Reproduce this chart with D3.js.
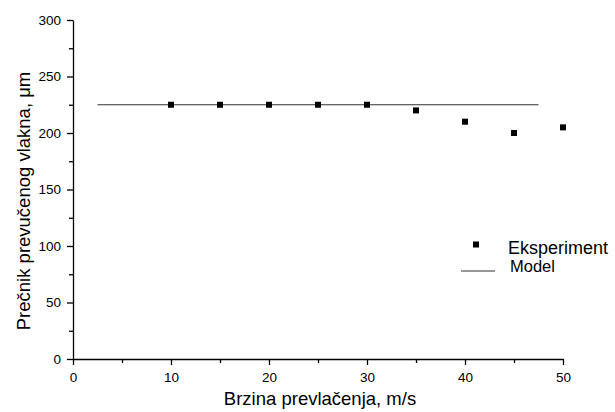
<!DOCTYPE html>
<html>
<head>
<meta charset="utf-8">
<script src="https://cdn.jsdelivr.net/npm/d3@7"></script>
<style>
  body { margin: 0; background: #fff; }
  text { font-family: "Liberation Sans", Arial, sans-serif; fill: #000; }
</style>
</head>
<body>
<div id="chart"></div>
<script>
// measured data
var speed = [10, 15, 20, 25, 30, 35, 40, 45, 50];
var diameter = [225, 225, 225, 225, 225, 220, 210, 200, 205];
var modelX = [2.5, 47.5];
var modelY = [225, 225];
var xTicks = [0, 10, 20, 30, 40, 50];
var yTicks = [0, 50, 100, 150, 200, 250, 300];

var width = 615, height = 412;
var margin = {top: 20, right: 52, bottom: 53, left: 73};

var svg = d3.select("#chart").append("svg")
    .attr("width", width)
    .attr("height", height);

var x = d3.scaleLinear().domain([0, 50]).range([margin.left, width - margin.right]);
var y = d3.scaleLinear().domain([0, 300]).range([height - margin.bottom, margin.top]);

// minor ticks first
svg.append("g")
    .attr("transform", "translate(0," + y(0) + ")")
    .call(d3.axisBottom(x).tickValues(d3.range(5, 50, 10)).tickSize(4).tickFormat(""))
    .call(function(g){ g.select(".domain").remove(); });
svg.append("g")
    .attr("transform", "translate(" + x(0) + ",0)")
    .call(d3.axisLeft(y).tickValues(d3.range(25, 300, 50)).tickSize(4).tickFormat(""))
    .call(function(g){ g.select(".domain").remove(); });

var xAxis = svg.append("g")
    .attr("transform", "translate(0," + y(0) + ")")
    .call(d3.axisBottom(x).tickValues(xTicks).tickSize(6).tickSizeOuter(0).tickPadding(7));
var yAxis = svg.append("g")
    .attr("transform", "translate(" + x(0) + ",0)")
    .call(d3.axisLeft(y).tickValues(yTicks).tickSize(6).tickSizeOuter(0).tickPadding(6));

svg.selectAll(".tick text").style("font-size", "13.5px").style("font-family", "Liberation Sans, Arial, sans-serif");
svg.selectAll(".domain, .tick line").attr("stroke", "#000").attr("stroke-width", 1.3);

// model line
var line = d3.line()
    .x(function(d, i){ return x(modelX[i]); })
    .y(function(d, i){ return y(modelY[i]); });
svg.append("path")
    .datum(modelX)
    .attr("d", line)
    .attr("fill", "none")
    .attr("stroke", "#333")
    .attr("stroke-width", 1.2);

// experiment points
var s = 6;
svg.selectAll(".pt")
    .data(speed)
    .enter().append("rect")
    .attr("class", "pt")
    .attr("x", function(d){ return x(d) - s/2; })
    .attr("y", function(d, i){ return y(diameter[i]) - s/2; })
    .attr("width", s)
    .attr("height", s)
    .attr("fill", "#000");

// axis titles
svg.append("text")
    .attr("x", 320)
    .attr("y", 405)
    .attr("text-anchor", "middle")
    .style("font-size", "18.5px")
    .text("Brzina prevlačenja, m/s");

svg.append("text")
    .attr("transform", "translate(30,201) rotate(-90)")
    .attr("text-anchor", "middle")
    .style("font-size", "18.5px")
    .text("Prečnik prevučenog vlakna, μm");

// legend
svg.append("rect")
    .attr("x", 476 - s/2).attr("y", 244.5 - s/2)
    .attr("width", s).attr("height", s)
    .attr("fill", "#000");
svg.append("text")
    .attr("x", 508).attr("y", 254)
    .style("font-size", "18px")
    .text("Eksperiment");
svg.append("line")
    .attr("x1", 461).attr("x2", 495)
    .attr("y1", 271).attr("y2", 271)
    .attr("stroke", "#333").attr("stroke-width", 1.2);
svg.append("text")
    .attr("x", 510).attr("y", 272)
    .style("font-size", "16.5px")
    .text("Model");
</script>
</body>
</html>
